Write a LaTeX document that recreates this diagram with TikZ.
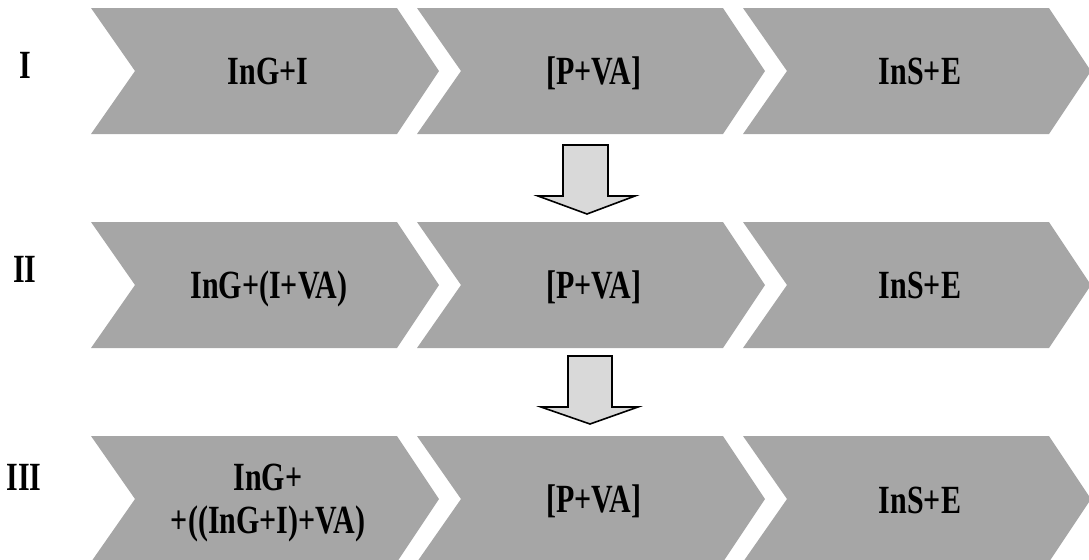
\documentclass[tikz,border=0pt]{standalone}
\usepackage{fontspec}
\setmainfont[FakeStretch=0.75]{Liberation Serif}
\usepackage{xcolor}
\definecolor{chevgray}{RGB}{166, 166, 166}
\definecolor{arrowgray}{RGB}{217, 217, 217}
\tikzset{
  chev/.style={fill=chevgray},
  steptext/.style={font=\fontsize{20}{21.5}\selectfont\bfseries,
              anchor=base, inner sep=0pt, align=center},
  rowlabel/.style={font=\fontsize{20}{21.5}\selectfont\bfseries,
              anchor=base, inner sep=0pt},
  downarrow/.style={draw=black, line width=0.8pt, fill=arrowgray,
              line join=miter},
}

\begin{document}
\begin{tikzpicture}[x=0.5pt, y=-0.5pt]
  \useasboundingbox (0,0) rectangle (1089,559);
  % Chevrons, three per row
  \foreach \ty in {8,222,436}{
    \foreach \cx in {91,417,743}{
      \fill[chev] (\cx,\ty) -- ++(306,0) -- ++(42,63) -- ++(-42,63)
        -- ++(-306,0) -- ++(44,-63) -- cycle;
    }
  }
  % Row labels
  \node[rowlabel] (lab1) at (25,78) {I};
  \node[rowlabel] (lab2) at (25,282) {II};
  \node[rowlabel] (lab3) at (24,490) {III};
  % Row I
  \node[steptext] (ing1) at (268,84) {InG+I};
  \node[steptext] (pva1) at (594,84) {[P+VA]};
  \node[steptext] (ins1) at (920,84) {InS+E};
  % Row II
  \node[steptext] (ing2) at (269,298) {InG+(I+VA)};
  \node[steptext] (pva2) at (594,298) {[P+VA]};
  \node[steptext] (ins2) at (920,298) {InS+E};
  % Row III
  \node[steptext, anchor=north] (ing3) at (268,464) {InG+\\+((InG+I)+VA)};
  \node[steptext] (pva3) at (594,512) {[P+VA]};
  \node[steptext] (ins3) at (920,513) {InS+E};
  % Block arrows between rows
  \draw[downarrow] (563,145) -- (608,145) -- (608,196) -- (635,196)
    -- (587,214) -- (538,196) -- (563,196) -- cycle;
  \draw[downarrow] (568,356) -- (612,356) -- (612,407) -- (638,407)
    -- (590,424) -- (541,407) -- (568,407) -- cycle;
\end{tikzpicture}
\end{document}
